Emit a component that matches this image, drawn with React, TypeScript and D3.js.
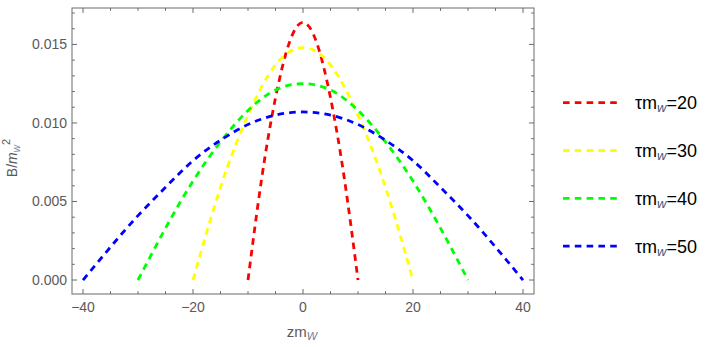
import React from "react";
import * as d3 from "d3";

// curve samples (z in units of 1/m_W, B in units of m_W^2)
const redZ = [-10, -7.5, -5, -2.5, 0, 2.5, 5, 7.5, 10];
const redB = [0, 0.0065, 0.0116, 0.0151, 0.0164, 0.0151, 0.0116, 0.0065, 0];

const yellowZ = [-20, -15, -10, -5, 0, 5, 10, 15, 20];
const yellowB = [0, 0.0059, 0.0105, 0.0137, 0.0148, 0.0137, 0.0105, 0.0059, 0];

const greenZ = [-30, -25, -20, -15, -10, -5, 0, 5, 10, 15, 20, 25, 30];
const greenB = [0, 0.0033, 0.0063, 0.0088, 0.0108, 0.0121, 0.0125, 0.0121, 0.0108, 0.0088, 0.0063, 0.0033, 0];

const blueZ = [-40, -35, -30, -25, -20, -15, -10, -5, 0, 5, 10, 15, 20, 25, 30, 35, 40];
const blueB = [0, 0.0021, 0.0041, 0.0059, 0.0076, 0.0089, 0.0099, 0.0105, 0.0107, 0.0105, 0.0099, 0.0089, 0.0076, 0.0059, 0.0041, 0.0021, 0];

const tauValues = ["20", "30", "40", "50"];
const colors = ["#ff0000", "#ffff00", "#00ff00", "#0000ff"];

const xMajor = [-40, -20, 0, 20, 40];
const yMajor = [0, 0.005, 0.01, 0.015];

export default function App() {
  const width = 711;
  const height = 347;
  const left = 72, right = 534, top = 8, bottom = 294;

  const x = d3.scaleLinear().domain([-42, 42]).range([left, right]);
  const y = d3.scaleLinear().domain([-0.00089, 0.01732]).range([bottom, top]);

  const series = [
    { z: redZ, b: redB },
    { z: yellowZ, b: yellowB },
    { z: greenZ, b: greenB },
    { z: blueZ, b: blueB },
  ];

  const line = d3
    .line<[number, number]>()
    .x((d) => x(d[0]))
    .y((d) => y(d[1]))
    .curve(d3.curveNatural);

  const frame = "#6b6b6b";
  const textGrey = "#5a5a5a";
  const subBlue = "#6a7b9c";

  const xMinor = d3.range(-40, 41, 5).filter((v) => v % 20 !== 0);
  const yMinor = d3.range(0, 0.0171, 0.001).filter((v) => Math.round(v * 1000) % 5 !== 0);

  const dash = "6.6 5.2";
  const legendY0 = 102.7, legendStep = 47.8;

  return (
    <svg
      width={width}
      height={height}
      style={{ position: "absolute", left: 0, top: 0, background: "#fff" }}
      fontFamily="Arial, 'Liberation Sans', sans-serif"
    >
      {/* series */}
      <g fill="none" strokeWidth={2.8} strokeDasharray={dash}>
        {series.map((s, i) => (
          <path
            key={i}
            stroke={colors[i]}
            d={line(s.z.map((z, k) => [z, s.b[k]] as [number, number])) || undefined}
          />
        ))}
      </g>

      {/* frame */}
      <rect x={left} y={top} width={right - left} height={bottom - top} fill="none" stroke={frame} strokeWidth={1} />

      {/* ticks */}
      <g stroke={frame} strokeWidth={1}>
        {xMajor.map((v) => (
          <g key={"xM" + v}>
            <line x1={x(v)} x2={x(v)} y1={bottom} y2={bottom - 5} />
            <line x1={x(v)} x2={x(v)} y1={top} y2={top + 5} />
          </g>
        ))}
        {xMinor.map((v) => (
          <g key={"xm" + v}>
            <line x1={x(v)} x2={x(v)} y1={bottom} y2={bottom - 2.8} />
            <line x1={x(v)} x2={x(v)} y1={top} y2={top + 2.8} />
          </g>
        ))}
        {yMajor.map((v) => (
          <g key={"yM" + v}>
            <line x1={left} x2={left + 5} y1={y(v)} y2={y(v)} />
            <line x1={right} x2={right - 5} y1={y(v)} y2={y(v)} />
          </g>
        ))}
        {yMinor.map((v) => (
          <g key={"ym" + v}>
            <line x1={left} x2={left + 2.8} y1={y(v)} y2={y(v)} />
            <line x1={right} x2={right - 2.8} y1={y(v)} y2={y(v)} />
          </g>
        ))}
      </g>

      {/* tick labels */}
      <g fill={textGrey} fontSize={14}>
        {xMajor.map((v) => (
          <text key={"xl" + v} x={x(v)} y={312} textAnchor="middle">
            {v < 0 ? "\u2212" + Math.abs(v) : String(v)}
          </text>
        ))}
        {yMajor.map((v) => (
          <text key={"yl" + v} x={67} y={y(v) + 5} textAnchor="end">
            {d3.format(".3f")(v)}
          </text>
        ))}
      </g>

      {/* axis labels */}
      <text x={302} y={337} textAnchor="middle" fontSize={15} fill={textGrey}>
        zm
        <tspan fontSize={11} dy={3} fill={subBlue} fontStyle="italic">W</tspan>
      </text>
      <text
        transform="translate(17,158) rotate(-90)"
        textAnchor="middle"
        fontSize={14}
        fill={textGrey}
      >
        B/
        <tspan fontStyle="italic">m</tspan>
        <tspan fontSize={10} dy={3} fill={subBlue} fontStyle="italic">w</tspan>
        <tspan fontSize={11} dy={-10}>2</tspan>
      </text>

      {/* legend */}
      {tauValues.map((t, i) => {
        const ly = legendY0 + i * legendStep;
        return (
          <g key={"lg" + t}>
            <line x1={563} x2={618} y1={ly} y2={ly} stroke={colors[i]} strokeWidth={2.8} strokeDasharray={dash} />
            <text x={635} y={ly + 6.5} fontSize={18} fill="#000">
              {"\u03c4m"}
              <tspan fontSize={13} dy={3} fill="#46587e" fontStyle="italic">w</tspan>
              <tspan dy={-3}>{"=" + t}</tspan>
            </text>
          </g>
        );
      })}
    </svg>
  );
}
